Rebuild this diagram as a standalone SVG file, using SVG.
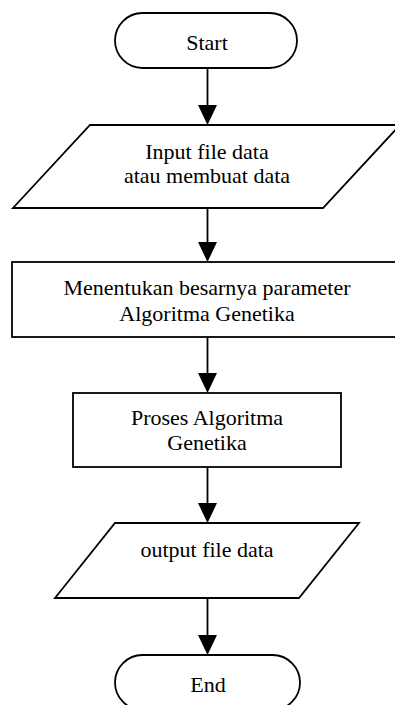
<svg xmlns="http://www.w3.org/2000/svg" width="395" height="705" viewBox="0 0 395 705">
<style>
.s{fill:#fff;stroke:#000;stroke-width:1.8}
.t{font-family:"Liberation Serif","Times New Roman",serif;font-size:22px;fill:#000;text-anchor:middle}
.c{stroke:#000;stroke-width:1.8;fill:none}
.h{fill:#000}
</style>
<rect width="395" height="705" fill="#fff"/>
<g id="start">
<rect class="s" x="115" y="13" width="182" height="55" rx="27.5" ry="27.5"/>
<text class="t" x="207" y="50">Start</text>
</g>
<g id="input">
<polygon class="s" points="90,125 400,125 323,208 13,208"/>
<text class="t" x="207" y="159">Input file data</text>
<text class="t" x="207" y="183">atau membuat data</text>
</g>
<g id="param">
<rect class="s" x="12" y="262" width="390" height="75"/>
<text class="t" x="207" y="295">Menentukan besarnya parameter</text>
<text class="t" x="207" y="321">Algoritma Genetika</text>
</g>
<g id="proses">
<rect class="s" x="73" y="393" width="268" height="74"/>
<text class="t" x="207" y="425">Proses Algoritma</text>
<text class="t" x="207" y="450">Genetika</text>
</g>
<g id="output">
<polygon class="s" points="115,523 359,523 299,598 55,598"/>
<text class="t" x="207" y="557">output file data</text>
</g>
<g id="end">
<rect class="s" x="115" y="655" width="185" height="55" rx="27.5" ry="27.5"/>
<text class="t" x="208" y="692">End</text>
</g>
<g id="connectors">
<line class="c" x1="207.5" y1="68" x2="207.5" y2="108"/>
<polygon class="h" points="198,105 217,105 207.5,125"/>
<line class="c" x1="207.5" y1="208" x2="207.5" y2="245"/>
<polygon class="h" points="198,242 217,242 207.5,262"/>
<line class="c" x1="207.5" y1="337" x2="207.5" y2="376"/>
<polygon class="h" points="198,373 217,373 207.5,393"/>
<line class="c" x1="207.5" y1="467" x2="207.5" y2="506"/>
<polygon class="h" points="198,503 217,503 207.5,523"/>
<line class="c" x1="207.5" y1="598" x2="207.5" y2="638"/>
<polygon class="h" points="198,635 217,635 207.5,655"/>
</g>
</svg>
